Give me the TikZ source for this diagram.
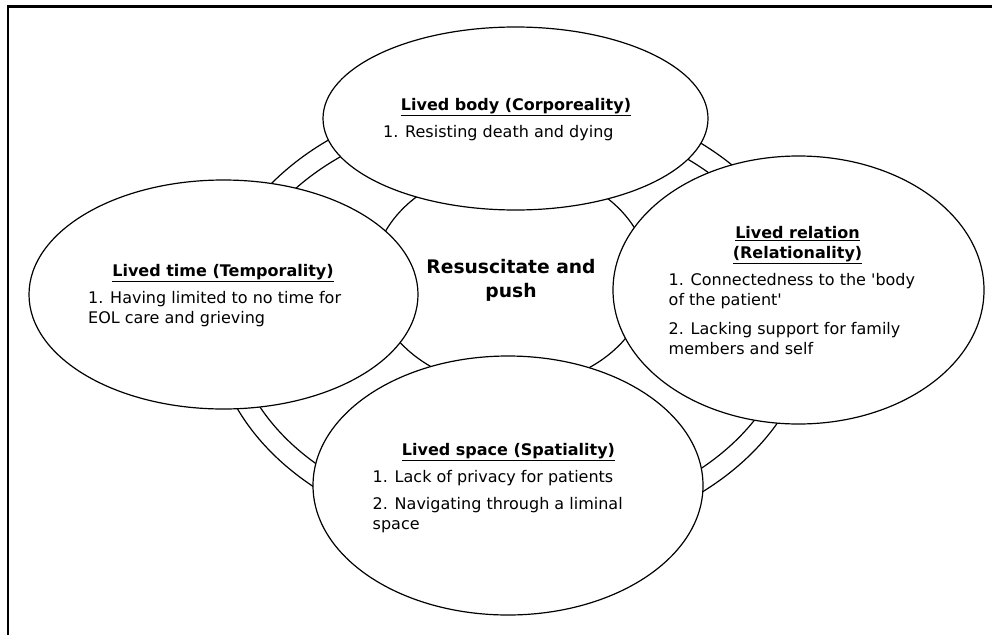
\documentclass[tikz,border=0pt]{standalone}
\usepackage{fontspec}
\setmainfont{DejaVu Sans}
\usetikzlibrary{shapes.geometric}
\begin{document}
\begin{tikzpicture}[x=1pt,y=-1pt,
  bubble/.style={draw, line width=1.2pt, fill=white, ellipse, inner sep=0pt, outer sep=0pt},
  ringline/.style={line width=1.2pt},
  head/.style={anchor=base, inner sep=0pt, font=\fontsize{16}{20}\selectfont\bfseries},
  itemtext/.style={anchor=base west, inner sep=0pt, font=\fontsize{16}{20}\selectfont},
  coretext/.style={anchor=base, inner sep=0pt, font=\fontsize{18.7}{24}\selectfont\bfseries}]
\useasboundingbox (0,0) rectangle (992,634);
\begin{scope}
  \clip (0,0) rectangle (992,634);
  \draw[line width=2.6pt] (8,700) -- (8,6.5) -- (1050,6.5);
\end{scope}
% double ring
\draw[ringline] (512,318) ellipse [x radius=300, y radius=225];
\draw[ringline] (512,318) ellipse [x radius=280, y radius=204];
% central shape
\node[bubble, minimum width=276pt, minimum height=220pt] (core) at (511,277) {};
% four bubbles
\node[bubble, minimum width=385pt, minimum height=183pt] (body) at (515.5,118.5) {};
\node[bubble, minimum width=389pt, minimum height=229pt] (time) at (223.5,294.5) {};
\node[bubble, minimum width=371pt, minimum height=268pt] (relation) at (798.5,290) {};
\node[bubble, minimum width=390pt, minimum height=259pt] (space) at (508,485.5) {};
% central text
\node[coretext] (c1) at (511,273) {Resuscitate and};
\node[coretext] (c2) at (511,297) {push};
% body
\node[head] (bh) at (516,110.5) {\underline{Lived body (Corporeality)}};
\node[itemtext] (b1) at (383,137.5) {1. Resisting death and dying};
% time
\node[head] (th) at (223,276) {\underline{Lived time (Temporality)}};
\node[itemtext] (t1) at (88,303.5) {1. Having limited to no time for};
\node[itemtext] (t2) at (88,323.5) {EOL care and grieving};
% relation
\node[head] (rh1) at (797.5,238.5) {\underline{Lived relation}};
\node[head] (rh2) at (797.5,258.5) {\underline{(Relationality)}};
\node[itemtext] (r1) at (668.5,285.5) {1. Connectedness to the \textquotesingle body};
\node[itemtext] (r2) at (668.5,305.5) {of the patient\textquotesingle};
\node[itemtext] (r3) at (668.5,334) {2. Lacking support for family};
\node[itemtext] (r4) at (668.5,354) {members and self};
% space
\node[head] (sh) at (508.5,455.5) {\underline{Lived space (Spatiality)}};
\node[itemtext] (s1) at (372.5,482) {1. Lack of privacy for patients};
\node[itemtext] (s2) at (372.5,509.5) {2. Navigating through a liminal};
\node[itemtext] (s3) at (372.5,529.5) {space};
\end{tikzpicture}
\end{document}
